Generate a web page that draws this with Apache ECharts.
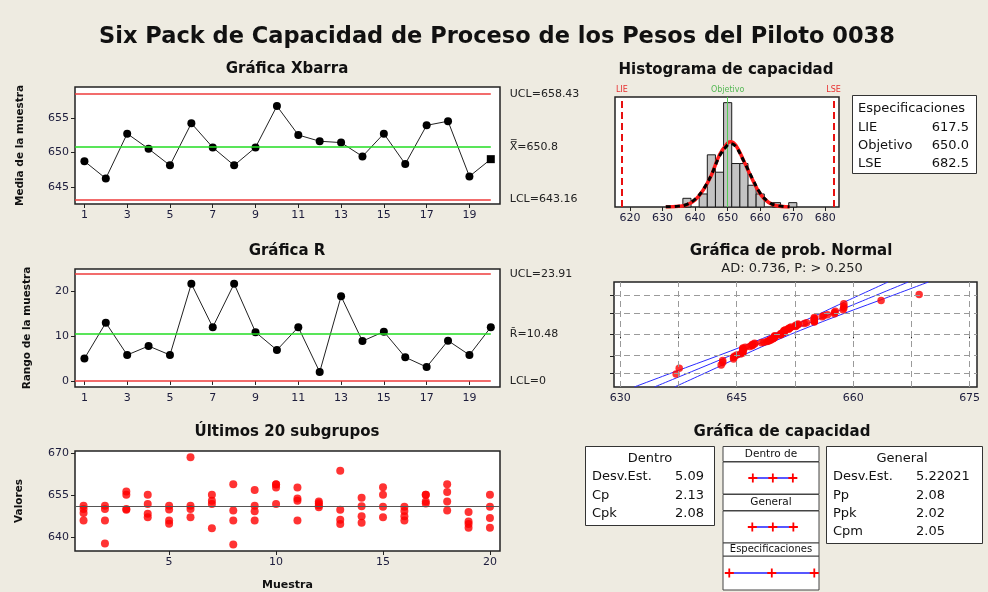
<!DOCTYPE html>
<html>
<head>
<meta charset="utf-8">
<script src="https://cdn.jsdelivr.net/npm/echarts@6/dist/echarts.min.js"></script>
<style>
html,body{margin:0;padding:0;background:#eeebe1;}
#main{width:988px;height:592px;}
</style>
</head>
<body>
<div id="main"></div>
<script>
// ---- data ----
var subgroups = [1,2,3,4,5,6,7,8,9,10,11,12,13,14,15,16,17,18,19,20];
var xbarValues = [648.7,646.2,652.7,650.5,648.1,654.2,650.7,648.1,650.7,656.7,652.5,651.6,651.4,649.4,652.7,648.3,653.9,654.5,646.5,649.0];
var xbarUCL = 658.43, xbarCenter = 650.8, xbarLCL = 643.16;
var rangeValues = [5.0,13.0,5.8,7.8,5.8,21.7,12.0,21.7,10.9,6.9,12.0,2.0,18.9,8.9,11.0,5.3,3.1,9.0,5.8,12.0];
var rUCL = 23.91, rCenter = 10.48, rLCL = 0;

// 20 subgroups of 4 observations
var observations = [
  [651.1,649.9,648.5,645.8],[651.1,649.9,645.8,637.6],[656.2,655.0,649.9,649.7],[655.0,651.7,648.2,647.0],
  [651.1,649.8,645.8,644.7],[668.5,651.1,649.9,647.0],[655.0,652.9,651.7,643.0],[658.8,649.4,645.8,637.2],
  [656.7,651.1,649.1,645.8],[658.8,658.7,657.6,651.7],[657.6,653.7,652.9,645.8],[652.6,652.0,651.3,650.6],
  [663.6,649.7,646.1,644.6],[654.0,650.9,647.3,645.0],[657.7,655.0,650.7,647.0],[650.7,649.2,647.3,645.8],
  [655.0,655.0,652.6,651.9],[658.8,656.0,652.6,649.4],[648.9,645.5,644.6,643.2],[655.0,650.7,646.7,643.2]
];

// histogram
var binCenters = [637.5,640,642.5,645,647.5,650,652.5,655,657.5,660,662.5,665,667.5,670];
var binCounts  = [2,0,3,12,8,24,10,10,5,3,0,1,0,1];
var binWidth = 2.5;
var curveX       = [631,635,637.5,640,642.5,645,647.5,650,650.8,652.5,655,657.5,660,662.5,665,669];
var withinCurve  = [0.02,0.15,0.5,1.6,3.9,7.3,12.0,14.7,15.0,14.2,10.5,6.5,3.0,1.1,0.3,0.02];
var overallCurve = [0.03,0.2,0.6,1.8,4.0,7.4,11.7,14.3,14.6,13.9,10.5,6.7,3.2,1.2,0.35,0.03];
var lie = 617.5, target = 650.0, lse = 682.5;

// normal probability plot
var probLevels = [1,10,50,90,99];
var probGridX = [630,637.5,645,652.5,660,667.5,675];
var bandZ = [-3.15,-2,-1,0,1,2,3.13];
var fitX  = [634.4,640.4,645.6,650.8,656.0,661.2,667.1];
var lowX  = [631.8,638.4,644.2,649.65,654.6,659.2,664.5];
var highX = [637.0,642.4,647.0,651.95,657.4,663.2,669.7];

// capability plot intervals
var withinInterval  = [635.5,650.8,666.1];
var overallInterval = [635.1,650.8,666.5];
var specInterval    = [617.5,650.0,682.5];

// ---- helpers ----
function invNorm(p){
  var a=[-3.969683028665376e+01,2.209460984245205e+02,-2.759285104469687e+02,1.383577518672690e+02,-3.066479806614716e+01,2.506628277459239e+00];
  var b=[-5.447609879822406e+01,1.615858368580409e+02,-1.556989798598866e+02,6.680131188771972e+01,-1.328068155288572e+01];
  var c=[-7.784894002430293e-03,-3.223964580411365e-01,-2.400758277161838e+00,-2.549732539343734e+00,4.374664141464968e+00,2.938163982698783e+00];
  var d=[7.784695709041462e-03,3.224671290700398e-01,2.445134137142996e+00,3.754408661907416e+00];
  var pl=0.02425,q,r;
  if(p<pl){q=Math.sqrt(-2*Math.log(p));return (((((c[0]*q+c[1])*q+c[2])*q+c[3])*q+c[4])*q+c[5])/((((d[0]*q+d[1])*q+d[2])*q+d[3])*q+1);}
  if(p>1-pl){q=Math.sqrt(-2*Math.log(1-p));return -(((((c[0]*q+c[1])*q+c[2])*q+c[3])*q+c[4])*q+c[5])/((((d[0]*q+d[1])*q+d[2])*q+d[3])*q+1);}
  q=p-0.5;r=q*q;
  return (((((a[0]*r+a[1])*r+a[2])*r+a[3])*r+a[4])*r+a[5])*q/(((((b[0]*r+b[1])*r+b[2])*r+b[3])*r+b[4])*r+1);
}
function zip(xs, ys){ return xs.map(function(x,i){ return [x, ys[i]]; }); }

var FONT = 'DejaVu Sans';
var LBL = '#1c1c3c';
var LIMIT_RED = '#ee3b3b';
var CENTER_GREEN = '#22dd22';
var PLUS = 'path://M4,0H6V4H10V6H6V10H4V6H0V4H4Z';

var scatterPts = [];
observations.forEach(function(g, i){ g.forEach(function(v){ scatterPts.push([subgroups[i], v]); }); });

var sorted = [];
observations.forEach(function(g){ g.forEach(function(v){ sorted.push(v); }); });
sorted.sort(function(a,b){ return a-b; });
var nObs = sorted.length;
var probPts = sorted.map(function(v,i){ return [v, invNorm((i+1-0.3)/(nObs+0.4))]; });

function limitLine(xMin, xEnd, v, color, text){
  return [{coord:[xMin, v], lineStyle:{color:color}, label:{formatter:text}}, {coord:[xEnd, v]}];
}

var gridBase = {show:true, backgroundColor:'#fff', borderColor:'#222', borderWidth:1.5};
function g(o){ return Object.assign({}, gridBase, o); }

var xbarMin = 0.56, xbarMax = 20.43;
var oddTicks = [1,3,5,7,9,11,13,15,17,19];

var chart = echarts.init(document.getElementById('main'));
var option = {
  backgroundColor:'#eeebe1',
  animation:false,
  textStyle:{fontFamily:FONT},
  grid:[
    g({left:75, top:87, width:425, height:117}),
    g({left:75, top:269, width:425, height:118}),
    g({left:75, top:451, width:425, height:101}),
    g({left:615, top:97, width:224, height:110}),
    g({left:614, top:282, width:363, height:105}),
    g({left:723, top:462, width:96, height:32, borderWidth:1, borderColor:'#444'}),
    g({left:723, top:511, width:96, height:32, borderWidth:1, borderColor:'#444'}),
    g({left:723, top:556, width:96, height:34, borderWidth:1, borderColor:'#444'})
  ],
  xAxis:[
    {gridIndex:0, type:'value', min:xbarMin, max:xbarMax, splitLine:{show:false}, axisLine:{show:false},
     axisTick:{length:4, customValues:oddTicks, lineStyle:{color:'#222'}},
     axisLabel:{customValues:oddTicks, color:LBL, fontSize:11, margin:6}},
    {gridIndex:1, type:'value', min:xbarMin, max:xbarMax, splitLine:{show:false}, axisLine:{show:false},
     axisTick:{length:4, customValues:oddTicks, lineStyle:{color:'#222'}},
     axisLabel:{customValues:oddTicks, color:LBL, fontSize:11, margin:6}},
    {gridIndex:2, type:'value', min:0.6, max:20.47, splitLine:{show:false}, axisLine:{show:false},
     axisTick:{length:4, customValues:[5,10,15,20], lineStyle:{color:'#222'}},
     axisLabel:{customValues:[5,10,15,20], color:LBL, fontSize:11, margin:6},
     name:'Muestra', nameLocation:'middle', nameGap:29, nameTextStyle:{fontWeight:'bold', fontSize:11, color:'#111'}},
    {gridIndex:3, type:'value', min:615.4, max:684.2, splitLine:{show:false}, axisLine:{show:false},
     axisTick:{length:4, customValues:[620,630,640,650,660,670,680], lineStyle:{color:'#222'}},
     axisLabel:{customValues:[620,630,640,650,660,670,680], color:LBL, fontSize:11, margin:6}},
    {gridIndex:4, type:'value', min:629.2, max:675.95, splitLine:{show:false}, axisLine:{show:false},
     axisTick:{length:4, customValues:probGridX, lineStyle:{color:'#222'}},
     axisLabel:{customValues:[630,645,660,675], color:LBL, fontSize:11, margin:6}},
    {gridIndex:5, type:'value', min:612.7, max:686.1, show:false},
    {gridIndex:6, type:'value', min:612.7, max:686.1, show:false},
    {gridIndex:7, type:'value', min:612.7, max:686.1, show:false}
  ],
  yAxis:[
    {gridIndex:0, type:'value', min:642.5, max:659.46, splitLine:{show:false}, axisLine:{show:false},
     axisTick:{length:4, customValues:[645,650,655], lineStyle:{color:'#222'}},
     axisLabel:{customValues:[645,650,655], color:LBL, fontSize:11, margin:6},
     name:'Media de la muestra', nameLocation:'middle', nameGap:49, nameTextStyle:{fontWeight:'bold', fontSize:10.5, color:'#111'}},
    {gridIndex:1, type:'value', min:-1.35, max:25, splitLine:{show:false}, axisLine:{show:false},
     axisTick:{length:4, customValues:[0,10,20], lineStyle:{color:'#222'}},
     axisLabel:{customValues:[0,10,20], color:LBL, fontSize:11, margin:6},
     name:'Rango de la muestra', nameLocation:'middle', nameGap:42, nameTextStyle:{fontWeight:'bold', fontSize:10.5, color:'#111'}},
    {gridIndex:2, type:'value', min:634.9, max:670.7, splitLine:{show:false}, axisLine:{show:false},
     axisTick:{length:4, customValues:[640,655,670], lineStyle:{color:'#222'}},
     axisLabel:{customValues:[640,655,670], color:LBL, fontSize:11, margin:6},
     name:'Valores', nameLocation:'middle', nameGap:50, nameTextStyle:{fontWeight:'bold', fontSize:10.5, color:'#111'}},
    {gridIndex:3, type:'value', min:0, max:25.3, show:false},
    {gridIndex:4, type:'value', min:-3.15, max:3.13, splitLine:{show:false}, axisLine:{show:false},
     axisTick:{length:4, customValues:probLevels.map(function(p){ return invNorm(p/100); }), lineStyle:{color:'#222'}},
     axisLabel:{show:false}},
    {gridIndex:5, type:'value', min:0, max:2, show:false},
    {gridIndex:6, type:'value', min:0, max:2, show:false},
    {gridIndex:7, type:'value', min:0, max:2, show:false}
  ],
  series:[
    // Xbar chart
    {type:'line', xAxisIndex:0, yAxisIndex:0, z:3,
     data:xbarValues.map(function(v,i){ var p={value:[subgroups[i], v]}; if(i===xbarValues.length-1){ p.symbol='rect'; } return p; }),
     symbol:'circle', symbolSize:8, itemStyle:{color:'#000'}, lineStyle:{color:'#222', width:1},
     markLine:{silent:true, symbol:['none','none'], lineStyle:{type:'solid', width:1.5},
       label:{position:'end', distance:19, color:'#222', fontSize:11, fontFamily:FONT},
       data:[
         limitLine(xbarMin, 20, xbarUCL, LIMIT_RED, 'UCL=' + xbarUCL),
         limitLine(xbarMin, 20, xbarCenter, CENTER_GREEN, 'X\u033F=' + xbarCenter),
         limitLine(xbarMin, 20, xbarLCL, LIMIT_RED, 'LCL=' + xbarLCL)
       ]}},
    // R chart
    {type:'line', xAxisIndex:1, yAxisIndex:1, z:3,
     data:zip(subgroups, rangeValues),
     symbol:'circle', symbolSize:8, itemStyle:{color:'#000'}, lineStyle:{color:'#222', width:1},
     markLine:{silent:true, symbol:['none','none'], lineStyle:{type:'solid', width:1.5},
       label:{position:'end', distance:19, color:'#222', fontSize:11, fontFamily:FONT},
       data:[
         limitLine(xbarMin, 20, rUCL, LIMIT_RED, 'UCL=' + rUCL),
         limitLine(xbarMin, 20, rCenter, CENTER_GREEN, 'R\u0304=' + rCenter),
         limitLine(xbarMin, 20, rLCL, LIMIT_RED, 'LCL=' + rLCL)
       ]}},
    // last 20 subgroups
    {type:'scatter', xAxisIndex:2, yAxisIndex:2, z:3,
     data:scatterPts, symbol:'circle', symbolSize:8, itemStyle:{color:'#ff0000'},
     markLine:{silent:true, symbol:['none','none'], label:{show:false},
       lineStyle:{type:'solid', color:'#555', width:1}, data:[{yAxis:xbarCenter}]}},
    // histogram
    {type:'custom', xAxisIndex:3, yAxisIndex:3, z:3,
     data:zip(binCenters, binCounts).filter(function(d){ return d[1] > 0; }),
     encode:{x:0, y:1},
     renderItem:function(params, api){
       var cx = api.value(0), n = api.value(1);
       var p0 = api.coord([cx - binWidth/2, n]);
       var p1 = api.coord([cx + binWidth/2, 0]);
       return {type:'rect', shape:{x:p0[0], y:p0[1], width:p1[0]-p0[0], height:p1[1]-p0[1]},
               style:{fill:'#c3c3c3', stroke:'#1a1a1a', lineWidth:1}};
     }},
    {type:'line', xAxisIndex:3, yAxisIndex:3, z:1, data:[],
     markLine:{silent:true, symbol:['none','none'],
       label:{position:'end', distance:3, fontSize:8, fontFamily:FONT},
       data:[
         {xAxis:lie, lineStyle:{color:'#e81010', type:[7,4], width:2}, label:{formatter:'LIE', color:'#e83030'}},
         {xAxis:target, lineStyle:{color:'#55cc55', type:'solid', width:1}, label:{formatter:'Objetivo', color:'#55b855'}},
         {xAxis:lse, lineStyle:{color:'#e81010', type:[7,4], width:2}, label:{formatter:'LSE', color:'#e83030'}}
       ]}},
    {type:'line', xAxisIndex:3, yAxisIndex:3, z:4, data:zip(curveX, withinCurve), smooth:0.4,
     showSymbol:false, lineStyle:{color:'#ff1a1a', width:3.5}},
    {type:'line', xAxisIndex:3, yAxisIndex:3, z:5, data:zip(curveX, overallCurve), smooth:0.4,
     showSymbol:false, lineStyle:{color:'#000', width:3, type:[5,4]}},
    // normal probability plot
    {type:'line', xAxisIndex:4, yAxisIndex:4, z:1, data:[],
     markLine:{silent:true, symbol:['none','none'], label:{show:false},
       lineStyle:{type:[6,4], color:'#9a9a9a', width:1},
       data:probGridX.map(function(x){ return {xAxis:x}; }).concat(
            probLevels.map(function(p){ return {yAxis:invNorm(p/100)}; }))}},
    {type:'line', xAxisIndex:4, yAxisIndex:4, z:2, data:zip(fitX, bandZ), showSymbol:false, smooth:0.3,
     lineStyle:{color:'#2a2aff', width:1}},
    {type:'line', xAxisIndex:4, yAxisIndex:4, z:2, data:zip(lowX, bandZ), showSymbol:false, smooth:0.3,
     lineStyle:{color:'#2a2aff', width:1}},
    {type:'line', xAxisIndex:4, yAxisIndex:4, z:2, data:zip(highX, bandZ), showSymbol:false, smooth:0.3,
     lineStyle:{color:'#2a2aff', width:1}},
    {type:'scatter', xAxisIndex:4, yAxisIndex:4, z:3, data:probPts, symbol:'circle', symbolSize:7.5,
     itemStyle:{color:'#ff0000'}},
    // capability plot intervals
    {type:'line', xAxisIndex:5, yAxisIndex:5, data:withinInterval.map(function(v){ return [v,1]; }),
     symbol:PLUS, symbolSize:9, itemStyle:{color:'#ff0000'}, lineStyle:{color:'#2020ff', width:1.5}},
    {type:'line', xAxisIndex:6, yAxisIndex:6, data:overallInterval.map(function(v){ return [v,1]; }),
     symbol:PLUS, symbolSize:9, itemStyle:{color:'#ff0000'}, lineStyle:{color:'#2020ff', width:1.5}},
    {type:'line', xAxisIndex:7, yAxisIndex:7, data:specInterval.map(function(v){ return [v,1]; }),
     symbol:PLUS, symbolSize:9, itemStyle:{color:'#ff0000'}, lineStyle:{color:'#2020ff', width:1.5}}
  ],
  graphic:[
    {type:'text', x:497, y:37, style:{text:'Six Pack de Capacidad de Proceso de los Pesos del Piloto 0038', font:'bold 22.5px "DejaVu Sans"', fill:'#111', align:'center', verticalAlign:'middle'}},
    {type:'text', x:287, y:69, style:{text:'Gráfica Xbarra', font:'bold 15px "DejaVu Sans"', fill:'#111', align:'center', verticalAlign:'middle'}},
    {type:'text', x:287, y:251, style:{text:'Gráfica R', font:'bold 15px "DejaVu Sans"', fill:'#111', align:'center', verticalAlign:'middle'}},
    {type:'text', x:287, y:432, style:{text:'Últimos 20 subgrupos', font:'bold 15px "DejaVu Sans"', fill:'#111', align:'center', verticalAlign:'middle'}},
    {type:'text', x:726, y:70, style:{text:'Histograma de capacidad', font:'bold 15px "DejaVu Sans"', fill:'#111', align:'center', verticalAlign:'middle'}},
    {type:'text', x:791, y:251, style:{text:'Gráfica de prob. Normal', font:'bold 15px "DejaVu Sans"', fill:'#111', align:'center', verticalAlign:'middle'}},
    {type:'text', x:792, y:269, style:{text:'AD: 0.736, P: > 0.250', font:'13px "DejaVu Sans"', fill:'#222', align:'center', verticalAlign:'middle'}},
    {type:'text', x:782, y:432, style:{text:'Gráfica de capacidad', font:'bold 15px "DejaVu Sans"', fill:'#111', align:'center', verticalAlign:'middle'}},
    // specification box
    {type:'rect', shape:{x:852.5, y:95.5, width:124, height:78}, style:{fill:'#fff', stroke:'#333', lineWidth:1}},
    {type:'text', x:858, y:109, style:{text:'Especificaciones', font:'13px "DejaVu Sans"', fill:'#111', verticalAlign:'middle'}},
    {type:'text', x:858, y:128, style:{text:'LIE', font:'13px "DejaVu Sans"', fill:'#111', verticalAlign:'middle'}},
    {type:'text', x:969, y:128, style:{text:lie.toFixed(1), font:'13px "DejaVu Sans"', fill:'#111', align:'right', verticalAlign:'middle'}},
    {type:'text', x:858, y:146, style:{text:'Objetivo', font:'13px "DejaVu Sans"', fill:'#111', verticalAlign:'middle'}},
    {type:'text', x:969, y:146, style:{text:target.toFixed(1), font:'13px "DejaVu Sans"', fill:'#111', align:'right', verticalAlign:'middle'}},
    {type:'text', x:858, y:164, style:{text:'LSE', font:'13px "DejaVu Sans"', fill:'#111', verticalAlign:'middle'}},
    {type:'text', x:969, y:164, style:{text:lse.toFixed(1), font:'13px "DejaVu Sans"', fill:'#111', align:'right', verticalAlign:'middle'}},
    // Dentro box
    {type:'rect', shape:{x:585.5, y:446.5, width:129, height:79}, style:{fill:'#fff', stroke:'#333', lineWidth:1}},
    {type:'text', x:650, y:459, style:{text:'Dentro', font:'13px "DejaVu Sans"', fill:'#111', align:'center', verticalAlign:'middle'}},
    {type:'text', x:592, y:477, style:{text:'Desv.Est.', font:'13px "DejaVu Sans"', fill:'#111', verticalAlign:'middle'}},
    {type:'text', x:704, y:477, style:{text:'5.09', font:'13px "DejaVu Sans"', fill:'#111', align:'right', verticalAlign:'middle'}},
    {type:'text', x:592, y:496, style:{text:'Cp', font:'13px "DejaVu Sans"', fill:'#111', verticalAlign:'middle'}},
    {type:'text', x:704, y:496, style:{text:'2.13', font:'13px "DejaVu Sans"', fill:'#111', align:'right', verticalAlign:'middle'}},
    {type:'text', x:592, y:514, style:{text:'Cpk', font:'13px "DejaVu Sans"', fill:'#111', verticalAlign:'middle'}},
    {type:'text', x:704, y:514, style:{text:'2.08', font:'13px "DejaVu Sans"', fill:'#111', align:'right', verticalAlign:'middle'}},
    // General box
    {type:'rect', shape:{x:826.5, y:446.5, width:156, height:97}, style:{fill:'#fff', stroke:'#333', lineWidth:1}},
    {type:'text', x:902, y:459, style:{text:'General', font:'13px "DejaVu Sans"', fill:'#111', align:'center', verticalAlign:'middle'}},
    {type:'text', x:833, y:477, style:{text:'Desv.Est.', font:'13px "DejaVu Sans"', fill:'#111', verticalAlign:'middle'}},
    {type:'text', x:916, y:477, style:{text:'5.22021', font:'13px "DejaVu Sans"', fill:'#111', verticalAlign:'middle'}},
    {type:'text', x:833, y:496, style:{text:'Pp', font:'13px "DejaVu Sans"', fill:'#111', verticalAlign:'middle'}},
    {type:'text', x:916, y:496, style:{text:'2.08', font:'13px "DejaVu Sans"', fill:'#111', verticalAlign:'middle'}},
    {type:'text', x:833, y:514, style:{text:'Ppk', font:'13px "DejaVu Sans"', fill:'#111', verticalAlign:'middle'}},
    {type:'text', x:916, y:514, style:{text:'2.02', font:'13px "DejaVu Sans"', fill:'#111', verticalAlign:'middle'}},
    {type:'text', x:833, y:532, style:{text:'Cpm', font:'13px "DejaVu Sans"', fill:'#111', verticalAlign:'middle'}},
    {type:'text', x:916, y:532, style:{text:'2.05', font:'13px "DejaVu Sans"', fill:'#111', verticalAlign:'middle'}},
    // capability plot headers
    {type:'rect', shape:{x:723, y:446.5, width:96, height:15}, style:{fill:'#fff', stroke:'#444', lineWidth:1}},
    {type:'text', x:771, y:454, style:{text:'Dentro de', font:'10.5px "DejaVu Sans"', fill:'#111', align:'center', verticalAlign:'middle'}},
    {type:'rect', shape:{x:723, y:494.5, width:96, height:16}, style:{fill:'#fff', stroke:'#444', lineWidth:1}},
    {type:'text', x:771, y:502.5, style:{text:'General', font:'10.5px "DejaVu Sans"', fill:'#111', align:'center', verticalAlign:'middle'}},
    {type:'rect', shape:{x:723, y:543, width:96, height:13}, style:{fill:'#fff', stroke:'#444', lineWidth:1}},
    {type:'text', x:771, y:549.5, style:{text:'Especificaciones', font:'10px "DejaVu Sans"', fill:'#111', align:'center', verticalAlign:'middle'}}
  ]
};
chart.setOption(option);
</script>
</body>
</html>
